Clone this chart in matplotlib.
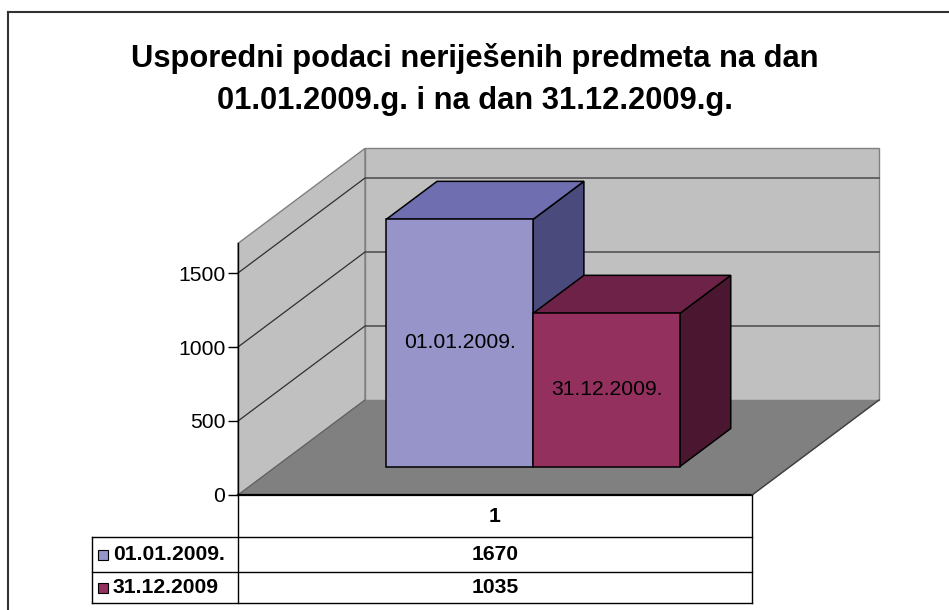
import matplotlib
matplotlib.use("Agg")
import matplotlib.pyplot as plt
from matplotlib.patches import Polygon, Rectangle
from matplotlib.lines import Line2D

plt.rcParams['font.family'] = ['Liberation Sans', 'DejaVu Sans']

# ---- data ----
title_lines = ["Usporedni podaci neriješenih predmeta na dan",
               "01.01.2009.g. i na dan 31.12.2009.g."]
series_names = ["01.01.2009.", "31.12.2009"]
bar_labels = ["01.01.2009.", "31.12.2009."]
values = [1670, 1035]
category = "1"
yticks = [0, 500, 1000, 1500]
ymax = 1700

front_cols = ["#9694C8", "#93305E"]
top_cols = ["#6E6EB0", "#6E2248"]
side_cols = ["#4A4A7C", "#4B1730"]

FS = 15.2

W, H = 949, 610
fig = plt.figure(figsize=(W / 100, H / 100), dpi=100)

def fx(px):
    return px / W

def fy(py):
    return 1 - py / H

# front plane of plot area in pixels
x0p, x1p, y0p = 238, 752, 495
px_per_val = 74 / 500.0
ax = fig.add_axes([fx(x0p), fy(y0p), (x1p - x0p) / W, ymax * px_per_val / H])
ax.set_xlim(0, 1)
ax.set_ylim(0, ymax)

# depth vector (full depth) in data units
DX = 127 / (x1p - x0p)
DY = 95 / px_per_val

def P(x, y, d):
    return (x + d * DX, y + d * DY)

# floor
ax.add_patch(Polygon([P(0, 0, 0), P(1, 0, 0), P(1, 0, 1), P(0, 0, 1)], closed=True,
                     facecolor="#808080", edgecolor="#808080", lw=1, clip_on=False, zorder=1))
# left wall
ax.add_patch(Polygon([P(0, 0, 0), P(0, ymax, 0), P(0, ymax, 1), P(0, 0, 1)], closed=True,
                     facecolor="#C0C0C0", edgecolor="#808080", lw=1, clip_on=False, zorder=1))
# back wall
ax.add_patch(Polygon([P(0, 0, 1), P(1, 0, 1), P(1, ymax, 1), P(0, ymax, 1)], closed=True,
                     facecolor="#C0C0C0", edgecolor="#808080", lw=1, clip_on=False, zorder=1))

# gridlines
for v in yticks[1:]:
    xs, ys = zip(P(0, v, 0), P(0, v, 1), P(1, v, 1))
    ax.plot(xs, ys, color="#303030", lw=0.9, clip_on=False, zorder=2)
xs, ys = zip(P(0, 0, 0), P(0, 0, 1))
ax.plot(xs, ys, color="#606060", lw=0.8, clip_on=False, zorder=2)

# floor front and right edge
ax.plot([0, 1], [0, 0], color="black", lw=1.6, clip_on=False, zorder=3)
xs, ys = zip(P(1, 0, 0), P(1, 0, 1))
ax.plot(xs, ys, color="#404040", lw=1.0, clip_on=False, zorder=3)

# bars (gap width 150 %, series occupy the middle 40 % of the depth)
gap = 1.5
n = len(values)
bw = 1.0 / (n + gap)
start = 0.5 - n * bw / 2
d0, d1 = 0.3, 0.7
for i, v in enumerate(values):
    xa = start + i * bw
    xb = xa + bw
    front = [P(xa, 0, d0), P(xb, 0, d0), P(xb, v, d0), P(xa, v, d0)]
    top = [P(xa, v, d0), P(xb, v, d0), P(xb, v, d1), P(xa, v, d1)]
    side = [P(xb, 0, d0), P(xb, v, d0), P(xb, v, d1), P(xb, 0, d1)]
    z = 4 + i
    ax.add_patch(Polygon(side, closed=True, facecolor=side_cols[i], edgecolor="black", lw=1.1, clip_on=False, zorder=z))
    ax.add_patch(Polygon(top, closed=True, facecolor=top_cols[i], edgecolor="black", lw=1.1, clip_on=False, zorder=z))
    ax.add_patch(Polygon(front, closed=True, facecolor=front_cols[i], edgecolor="black", lw=1.1, clip_on=False, zorder=z))
    cx, cy = P((xa + xb) / 2, v / 2, d0)
    ax.text(cx, cy, bar_labels[i], ha="center", va="center", fontsize=FS, color="black", zorder=10)

# axes styling
for s in ["top", "right", "bottom"]:
    ax.spines[s].set_visible(False)
ax.spines["left"].set_color("black")
ax.spines["left"].set_linewidth(1.0)
ax.spines["left"].set_zorder(3)
ax.set_xticks([])
ax.set_yticks(yticks)
ax.tick_params(axis="y", direction="out", length=7, width=1, labelsize=FS, pad=2)
ax.patch.set_visible(False)

# ---- data table ----
def hline(x_a, x_b, y, lw=1.0, c="black"):
    fig.add_artist(Line2D([fx(x_a), fx(x_b)], [fy(y), fy(y)], color=c, lw=lw))

def vline(x, y_a, y_b, lw=1.0, c="black"):
    fig.add_artist(Line2D([fx(x), fx(x)], [fy(y_a), fy(y_b)], color=c, lw=lw))

rows_y = [495, 537, 572, 603]
tab_left = 92
hline(tab_left, x1p, rows_y[1])
hline(tab_left, x1p, rows_y[2])
hline(tab_left, x1p, rows_y[3])
vline(x0p, rows_y[0], rows_y[3])
vline(x1p, rows_y[0], rows_y[3])
vline(tab_left, rows_y[1], rows_y[3])

fig.text(fx((x0p + x1p) / 2), fy((rows_y[0] + rows_y[1]) / 2), category,
         ha="center", va="center", fontsize=FS, fontweight="bold")
for i, name in enumerate(series_names):
    yc = (rows_y[i + 1] + rows_y[i + 2]) / 2
    sq = 10
    fig.add_artist(Rectangle((fx(98), fy(yc + sq / 2)), sq / W, sq / H,
                             facecolor=front_cols[i], edgecolor="black", lw=0.8,
                             transform=fig.transFigure))
    fig.text(fx(113), fy(yc), name, ha="left", va="center", fontsize=FS, fontweight="bold")
    fig.text(fx((x0p + x1p) / 2), fy(yc), str(values[i]), ha="center", va="center",
             fontsize=FS, fontweight="bold")

# title
fig.text(0.5, fy(58), title_lines[0], ha="center", va="center", fontsize=22.2, fontweight="bold")
fig.text(0.5, fy(101), title_lines[1], ha="center", va="center", fontsize=22.2, fontweight="bold")

# outer frame
hline(8, W + 5, 12, lw=1.5, c="#333333")
vline(8, 12, H + 5, lw=1.5, c="#333333")

fig.savefig("out.png", dpi=100)
